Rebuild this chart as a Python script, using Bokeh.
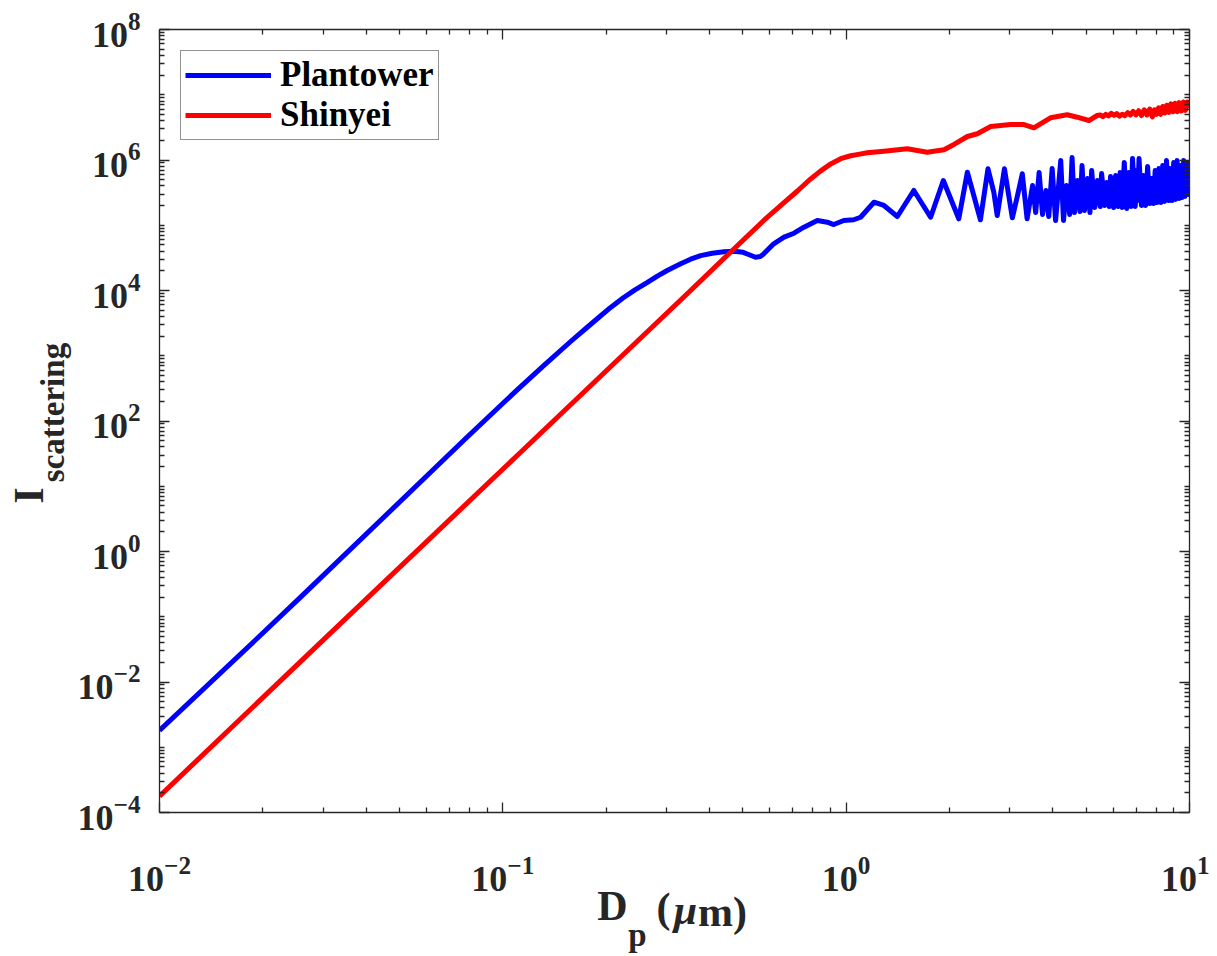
import numpy as np
from bokeh.plotting import figure
from bokeh.models import (FixedTicker, LogTickFormatter, LogAxis, LinearAxis, Range1d,
                          LinearScale)
from bokeh.embed import file_html
from bokeh.resources import INLINE

# ---- data (log10 of values) ----
plantower_log10_dp = [
    -2.000, -1.715, -1.589, -1.109, -0.955, -0.881, -0.800, -0.760, -0.720, -0.685,
    -0.650, -0.615, -0.580, -0.550, -0.520, -0.482, -0.453, -0.424, -0.390, -0.356,
    -0.327, -0.300, -0.288, -0.264, -0.250, -0.240,
    -0.211, -0.181, -0.152, -0.123, -0.084, -0.055, -0.036, -0.007, 0.022, 0.042,
    0.081, 0.110, 0.149, 0.197, 0.246, 0.283, 0.328, 0.353, 0.391, 0.413,
    0.430, 0.440, 0.461, 0.484, 0.498, 0.513, 0.527, 0.543, 0.552, 0.562,
    0.572, 0.582, 0.590, 0.600, 0.610, 0.625, 0.633, 0.642, 0.651, 0.658,
    0.665, 0.674, 0.681, 0.687, 0.694, 0.703, 0.710, 0.715, 0.724, 0.732,
    0.740, 0.744, 0.753, 0.759, 0.766, 0.770, 0.779, 0.785, 0.792, 0.798,
    0.804, 0.810, 0.817, 0.824, 0.830, 0.834, 0.842, 0.846, 0.849, 0.853,
    0.860, 0.866, 0.872, 0.878, 0.884, 0.890, 0.895, 0.900, 0.906, 0.911,
    0.917, 0.922, 0.927, 0.933, 0.939, 0.943, 0.949, 0.954, 0.959, 0.964,
    0.970, 0.974, 0.978, 0.983, 0.987, 0.992, 0.996, 1.000,
]
plantower_log10_i = [
    -2.743, -1.330, -0.700, 1.727, 2.493, 2.850, 3.230, 3.410, 3.590, 3.745,
    3.885, 4.010, 4.120, 4.220, 4.310, 4.410, 4.480, 4.535, 4.570, 4.595,
    4.603, 4.585, 4.560, 4.510, 4.520, 4.562,
    4.716, 4.817, 4.878, 4.970, 5.073, 5.047, 5.011, 5.073, 5.084, 5.123,
    5.353, 5.303, 5.134, 5.533, 5.123, 5.686, 5.099, 5.813, 5.084, 5.865,
    5.507, 5.149, 5.865, 5.114, 5.430, 5.789, 5.099, 5.609, 5.195, 5.808,
    5.165, 5.533, 5.134, 5.870, 5.073, 5.992, 5.073, 5.609, 5.165, 6.038,
    5.195, 5.686, 5.211, 5.916, 5.226, 5.716, 5.195, 5.839, 5.272, 5.686,
    5.287, 5.793, 5.303, 5.655, 5.287, 5.747, 5.272, 5.762, 5.287, 5.808,
    5.272, 5.962, 5.257, 5.808, 5.287, 6.023, 5.287, 5.839, 5.379, 6.023,
    5.303, 5.762, 5.303, 5.900, 5.333, 5.716, 5.333, 5.839, 5.349, 5.870,
    5.349, 5.916, 5.364, 5.992, 5.379, 5.870, 5.379, 5.962, 5.395, 5.992,
    5.410, 5.916, 5.425, 5.992, 5.441, 5.962, 5.471, 5.762,
]
shinyei_log10_dp = [
    -2.000, -1.512, -0.948, -0.453, -0.337, -0.240, -0.191, -0.142, -0.108, -0.075,
    -0.045, -0.016, 0.013, 0.040, 0.061, 0.110, 0.178, 0.236, 0.285, 0.314,
    0.353, 0.382, 0.421, 0.479, 0.518, 0.547, 0.566, 0.595, 0.644, 0.673,
    0.707, 0.731, 0.740, 0.748, 0.756, 0.764, 0.772, 0.780, 0.788, 0.796,
    0.804, 0.812, 0.820, 0.828, 0.836, 0.844, 0.852, 0.860, 0.868, 0.876,
    0.884, 0.892, 0.898, 0.904, 0.910, 0.916, 0.922, 0.928, 0.934, 0.940,
    0.946, 0.952, 0.958, 0.964, 0.970, 0.976, 0.982, 0.988, 0.994, 1.000,
]
shinyei_log10_i = [
    -3.750, -1.300, 1.522, 4.000, 4.587, 5.073, 5.300, 5.525, 5.690, 5.830,
    5.940, 6.020, 6.065, 6.090, 6.110, 6.135, 6.172, 6.120, 6.156, 6.238,
    6.360, 6.402, 6.513, 6.544, 6.544, 6.493, 6.555, 6.647, 6.693, 6.656,
    6.605, 6.682, 6.690, 6.665, 6.700, 6.675, 6.715, 6.685, 6.710, 6.670,
    6.700, 6.680, 6.725, 6.690, 6.745, 6.690, 6.755, 6.680, 6.770, 6.690,
    6.780, 6.660, 6.770, 6.700, 6.800, 6.700, 6.820, 6.720, 6.840, 6.730,
    6.860, 6.740, 6.870, 6.740, 6.880, 6.750, 6.890, 6.760, 6.890, 6.800,
]

x_major = [0.01, 0.1, 1.0, 10.0]
y_major = [1e-4, 1e-2, 1e0, 1e2, 1e4, 1e6, 1e8]

pt_dp = 10.0 ** np.array(plantower_log10_dp)
pt_i = 10.0 ** np.array(plantower_log10_i)
sh_dp = 10.0 ** np.array(shinyei_log10_dp)
sh_i = 10.0 ** np.array(shinyei_log10_i)

x_minor = [k * 10.0 ** n for n in (-2, -1, 0) for k in range(2, 10)]
y_minor = [k * 10.0 ** n for n in range(-4, 8) for k in range(1, 10)
           if not (k == 1 and n % 2 == 0)]

FONT = "Liberation Serif"
AX = "#262626"
FW, FH = 1030, 783

p = figure(x_axis_type="log", y_axis_type="log",
           x_range=(0.01, 10), y_range=(1e-4, 1e8),
           frame_width=FW, frame_height=FH,
           min_border_left=159, min_border_right=20,
           min_border_top=29, min_border_bottom=136,
           output_backend="svg", toolbar_location=None)
p.xgrid.visible = False
p.ygrid.visible = False
p.outline_line_color = None
p.background_fill_color = "white"
# pixel-like helper ranges used only to place the axis-title pieces
p.extra_x_ranges = {"tx": Range1d(0, FW)}
p.extra_y_ranges = {"ty": Range1d(0, FH)}
p.extra_x_scales = {"tx": LinearScale()}
p.extra_y_scales = {"ty": LinearScale()}

xt = FixedTicker(ticks=x_major, minor_ticks=x_minor)
yt = FixedTicker(ticks=y_major, minor_ticks=y_minor)


def style(ax, ticker, labels):
    ax.ticker = ticker
    ax.formatter = LogTickFormatter()
    ax.major_tick_in = 10
    ax.major_tick_out = 0
    ax.minor_tick_in = 5
    ax.minor_tick_out = 0
    ax.axis_line_color = AX
    ax.axis_line_width = 1.3
    ax.major_tick_line_color = AX
    ax.minor_tick_line_color = AX
    ax.major_tick_line_width = 1.3
    ax.minor_tick_line_width = 1.3
    if labels:
        ax.major_label_text_font = FONT
        ax.major_label_text_font_style = "bold"
        ax.major_label_text_font_size = "36px"
        ax.major_label_text_color = AX
    else:
        ax.major_label_text_font_size = "2px"
        ax.major_label_text_alpha = 0.0
        ax.major_label_standoff = 0


style(p.xaxis[0], xt, True)
style(p.yaxis[0], yt, True)
p.xaxis[0].major_label_standoff = 44
p.yaxis[0].major_label_standoff = 19

top = LogAxis()
right = LogAxis()
style(top, xt, False)
style(right, yt, False)
p.add_layout(top, "above")
p.add_layout(right, "right")

p.line(pt_dp, pt_i, line_color="#0000FF", line_width=5, line_join="round",
       legend_label="Plantower")
p.line(sh_dp, sh_i, line_color="#FF0000", line_width=5, line_join="round",
       legend_label="Shinyei")

leg = p.legend[0]
leg.location = "top_left"
leg.margin = 21
leg.padding = 4
leg.spacing = 0
leg.glyph_width = 86
leg.label_standoff = 9
leg.label_text_font = FONT
leg.label_text_font_style = "bold"
leg.label_text_font_size = "35px"
leg.label_text_line_height = 1.0
leg.label_text_color = "black"
leg.border_line_color = AX
leg.border_line_width = 1.3
leg.background_fill_color = "white"
leg.background_fill_alpha = 1.0


def title_piece(side, pos, text, size, standoff, style="bold"):
    if side in ("below", "above"):
        ax = LinearAxis(x_range_name="tx")
    else:
        ax = LinearAxis(y_range_name="ty")
        ax.major_label_orientation = "vertical"
    ax.ticker = FixedTicker(ticks=[pos], minor_ticks=[])
    ax.major_label_overrides = {pos: text}
    ax.axis_line_color = None
    ax.major_tick_line_color = None
    ax.minor_tick_line_color = None
    ax.major_tick_in = 0
    ax.major_tick_out = 0
    ax.minor_tick_in = 0
    ax.minor_tick_out = 0
    ax.major_label_standoff = standoff
    ax.major_label_text_font = FONT
    ax.major_label_text_font_style = style
    ax.major_label_text_font_size = size
    ax.major_label_text_color = AX
    p.add_layout(ax, side)


# x axis title: D_p (μm)
title_piece("below", 453, "D", "42px", -11)
title_piece("below", 504, "(", "42px", -47)
title_piece("below", 526, "\u03bc", "42px", -47, style="bold italic")
title_piece("below", 563, "m)", "42px", -47)
title_piece("below", 478, "p", "33px", -21)
# y axis title: I_scattering
title_piece("left", 400, "scattering", "33px", 4)
title_piece("left", 317, "I", "42px", -20)

open("out.html", "w").write(file_html(p, INLINE))
